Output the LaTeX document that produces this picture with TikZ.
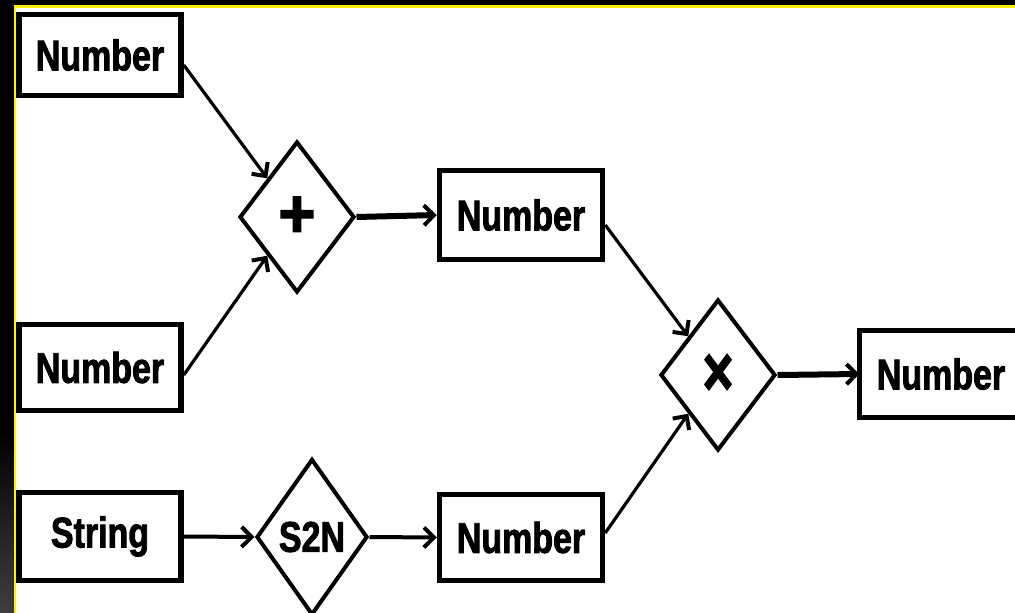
\documentclass[tikz,border=0pt]{standalone}
\usepackage{fontspec}
\setmainfont{Liberation Sans}
\newfontfamily\narrowsans[FakeStretch=0.79,FakeBold=2]{Liberation Sans}
\usetikzlibrary{shapes.geometric,arrows.meta}
\begin{document}
\begin{tikzpicture}[x=1pt,y=-1pt,
  txt/.style={font=\narrowsans\fontsize{43}{43}\selectfont\bfseries},
  box/.style={txt,draw,line width=5.5pt,minimum width=162pt,minimum height=85pt,inner sep=0pt,fill=white},
  op/.style={txt,draw,diamond,line width=4pt,inner sep=0pt,aspect=0.75,fill=white,
    minimum width=115pt,minimum height=151pt},
  tip/.style={-{Straight Barb[length=10pt,width=20pt,line width=4pt]}},
  con/.style={tip,line width=3.2pt},
  thickcon/.style={tip,line width=6pt},
  midcon/.style={tip,line width=4pt}]
\useasboundingbox (0,0) rectangle (1015,613);
\fill[black] (0,-20) rectangle (1040,640);
\shade[top color=black,bottom color=black!72] (0,430) rectangle (14,640);
\fill[yellow] (14,5) rectangle (1040,8);
\fill[yellow] (14,5) rectangle (16,640);
\fill[white] (16,8) rectangle (1040,640);

\node[box,minimum height=81pt] (n1) at (100,55) {Number};
\node[box,minimum height=86pt] (n2) at (100,367.5) {Number};
\node[box,minimum height=88pt] (str) at (100,536.5) {String};
\node[box,minimum width=163pt,minimum height=89pt] (mid) at (521,215) {Number};
\node[box,minimum width=163pt,minimum height=86pt] (bot) at (521,537.5) {Number};
\node[txt,minimum width=181pt,minimum height=87pt,inner sep=0pt] (out) at (950,374) {Number\hspace*{18pt}};
\draw[line width=5.5pt] (out.north east) -- (out.north west) -- (out.south west) -- (out.south east);

\node[op] (plus) at (297,217) {\scalebox{1.85}[1.6]{+}};
\node[op] (times) at (718,375) {\scalebox{1.55}[1.65]{×}};
\node[op,minimum width=111pt,minimum height=156pt] (s2n) at (312,537) {S2N};

\draw[con] ([yshift=-10pt]n1.east) -- (plus.north west);
\draw[con] ([yshift=-7.5pt]n2.east) -- (plus.south west);
\draw[thickcon] (plus.east) -- (mid.west);
\draw[con] ([yshift=-10pt]mid.east) -- (times.north west);
\draw[con] ([yshift=4.5pt]bot.east) -- (times.south west);
\draw[thickcon] (times.east) -- (out.west);
\draw[midcon] (str.east) -- (s2n.west);
\draw[midcon] (s2n.east) -- (bot.west);
\end{tikzpicture}
\end{document}
